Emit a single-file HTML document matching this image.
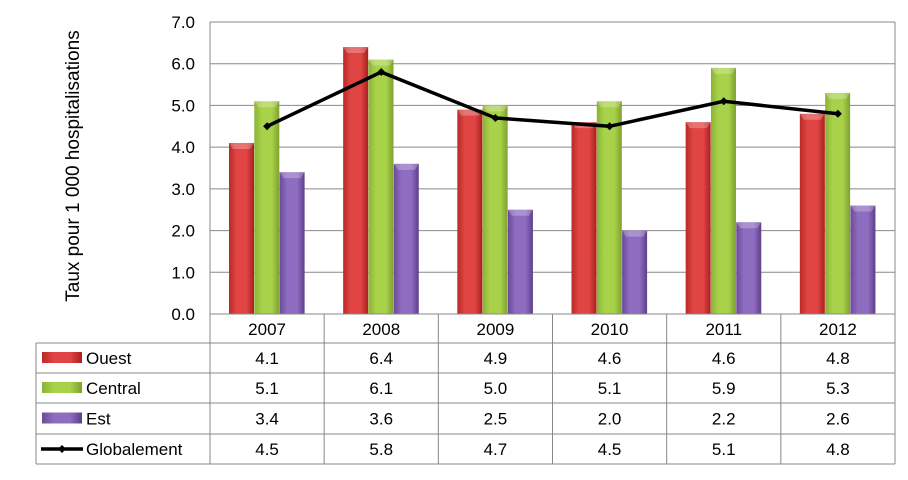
<!DOCTYPE html>
<html><head><meta charset="utf-8"><style>
body{margin:0;background:#fff;font-family:"Liberation Sans",Arial,sans-serif;}
svg text{font-family:"Liberation Sans",Arial,sans-serif;fill:#000;}
</style></head><body>
<svg width="908" height="475" viewBox="0 0 908 475">
<defs>
<linearGradient id="gR" x1="0" x2="1"><stop offset="0" stop-color="#b82a28"/><stop offset="0.3" stop-color="#e04543"/><stop offset="0.7" stop-color="#e04543"/><stop offset="1" stop-color="#a8201f"/></linearGradient>
<linearGradient id="gG" x1="0" x2="1"><stop offset="0" stop-color="#8ab236"/><stop offset="0.3" stop-color="#a8d24a"/><stop offset="0.7" stop-color="#a8d24a"/><stop offset="1" stop-color="#7fa02e"/></linearGradient>
<linearGradient id="gP" x1="0" x2="1"><stop offset="0" stop-color="#6a4a98"/><stop offset="0.3" stop-color="#8e6cc0"/><stop offset="0.7" stop-color="#8e6cc0"/><stop offset="1" stop-color="#5e3f8a"/></linearGradient>
</defs>
<g id="grid"></g><g id="bars"></g><g id="line"></g><g id="table"></g>
<text transform="translate(79,166) rotate(-90)" text-anchor="middle" font-size="19">Taux pour 1 000 hospitalisations</text>
</svg>
<script>
const years=["2007","2008","2009","2010","2011","2012"];
const ouest=[4.1,6.4,4.9,4.6,4.6,4.8];
const central=[5.1,6.1,5.0,5.1,5.9,5.3];
const est=[3.4,3.6,2.5,2.0,2.2,2.6];
const globalement=[4.5,5.8,4.7,4.5,5.1,4.8];
const yTicks=[0,1,2,3,4,5,6,7];
const NS="http://www.w3.org/2000/svg";
const X0=210,X1=895,Y0=314,Y7=22,CW=(X1-X0)/years.length;
const y=v=>Y0-(v/7)*(Y0-Y7);
const cx=i=>X0+CW*(i+0.5);
function mk(t,a,p){const e=document.createElementNS(NS,t);for(const k in a)e.setAttribute(k,a[k]);p.appendChild(e);return e;}
const grid=document.getElementById('grid');
yTicks.forEach(t=>{
 const l=mk('line',{x1:X0,x2:X1,y1:y(t),y2:y(t),stroke:'#888','stroke-width':1},grid);
 
 
 const tx=mk('text',{x:195,y:y(t)+6,'text-anchor':'end','font-size':17},grid);tx.textContent=t.toFixed(1);
 
 
});
mk('line',{x1:X0,x2:X0,y1:Y7,y2:Y0,stroke:'#888'},grid);
mk('line',{x1:X1,x2:X1,y1:Y7,y2:Y0,stroke:'#888'},grid);
const bars=document.getElementById('bars');
const series=[[ouest,'url(#gR)','ouest'],[central,'url(#gG)','central'],[est,'url(#gP)','est']];
series.forEach((s,si)=>{
 s[0].forEach((v,i)=>{
  const bx=X0+CW*i+19+si*25.3;
  const r=mk('rect',{x:bx,y:y(v),width:25,height:Y0-y(v),fill:s[1]},bars);
  
  
  mk('path',{d:`M${bx} ${y(v)} h25 l-4 6 h-17 z`,fill:'#fff','fill-opacity':0.25},bars);
 });
});
const lg=document.getElementById('line');
const pl=mk('polyline',{points:globalement.map((v,i)=>cx(i)+','+y(v)).join(' '),fill:'none',stroke:'#000','stroke-width':3.5},lg);


globalement.forEach((v,i)=>{
 const d=mk('path',{d:`M${cx(i)-4} ${y(v)} l4 -4 l4 4 l-4 4 z`,fill:'#000'},lg);
 
 
});
const tb=document.getElementById('table');
const rowsY=[314,343,373,403,434,464];
const TL=36;
mk('line',{x1:X0,x2:X1,y1:314,y2:314,stroke:'#888'},tb);
for(let r=1;r<rowsY.length;r++)mk('line',{x1:TL,x2:X1,y1:rowsY[r],y2:rowsY[r],stroke:'#888'},tb);
mk('line',{x1:TL,x2:TL,y1:343,y2:464,stroke:'#888'},tb);
for(let i=0;i<=years.length;i++)mk('line',{x1:X0+CW*i,x2:X0+CW*i,y1:314,y2:464,stroke:'#888'},tb);
years.forEach((yr,i)=>{const t=mk('text',{x:cx(i),y:335,'text-anchor':'middle','font-size':17},tb);t.textContent=yr;
 
 });
const rows=[['Ouest',ouest,'url(#gR)'],['Central',central,'url(#gG)'],['Est',est,'url(#gP)'],['Globalement',globalement,null]];
rows.forEach((r,ri)=>{
 const yc=(rowsY[ri+1]+rowsY[ri+2])/2;
 if(r[2]){mk('rect',{x:42,y:yc-6,width:40,height:11,fill:r[2]},tb);}
 else{mk('line',{x1:41,x2:83,y1:yc,y2:yc,stroke:'#000','stroke-width':3.5},tb);mk('path',{d:`M${58} ${yc} l4 -4 l4 4 l-4 4 z`,fill:'#000'},tb);}
 const lt=mk('text',{x:86,y:yc+6,'font-size':17},tb);lt.textContent=r[0];
 
 
 r[1].forEach((v,i)=>{const t=mk('text',{x:cx(i),y:yc+6,'text-anchor':'middle','font-size':17},tb);t.textContent=v.toFixed(1);
  
  });
});
</script>
</body></html>
